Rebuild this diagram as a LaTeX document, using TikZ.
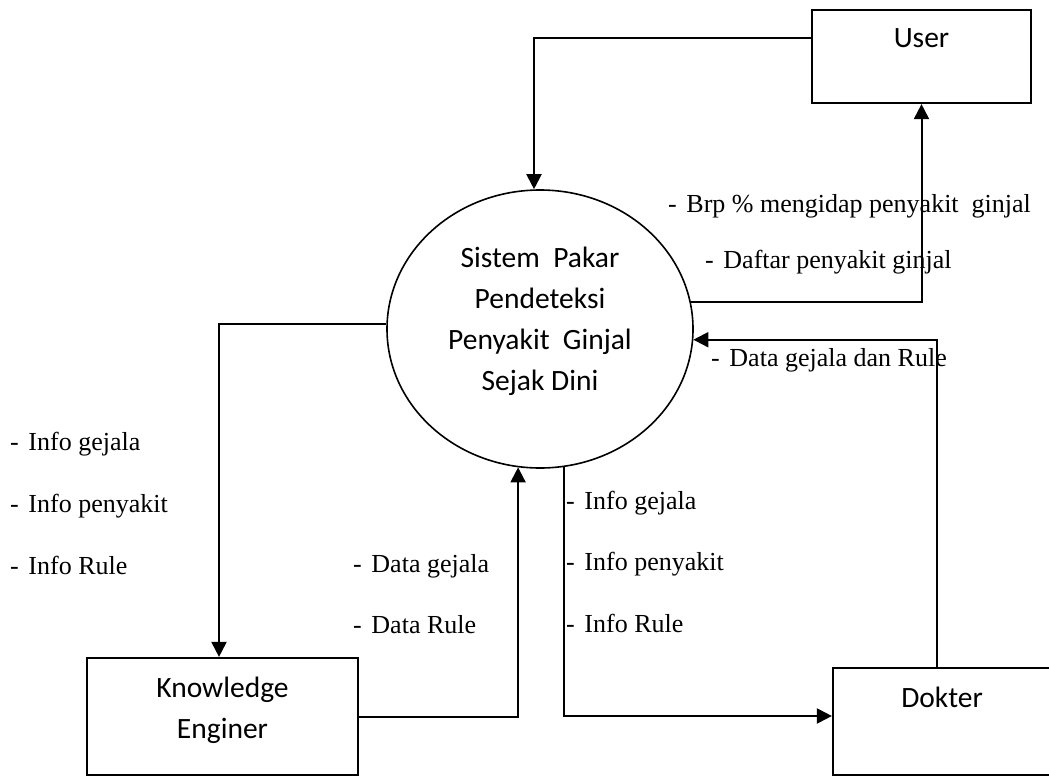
\documentclass[tikz,border=0pt]{standalone}
\usepackage{fontspec}
\setmainfont{Liberation Serif}
\newfontfamily\boxfont{Carlito}
\usetikzlibrary{arrows.meta, shapes.geometric}

\begin{document}
\begin{tikzpicture}[x = 1pt, y = -1pt,
	flow/.style = {line width = 2pt, -{Triangle[length = 15pt, width = 15pt]}},
	entity/.style = {draw, line width = 2.2pt, inner sep = 0pt},
	process/.style = {draw, ellipse, line width = 1.6pt, minimum width = 306pt, minimum height = 278pt, inner sep = 0pt},
	boxtext/.style = {font = \boxfont\fontsize{29.5}{41}\selectfont, align = center, inner sep = 0pt},
	note/.style = {font = \fontsize{26}{31}\selectfont, anchor = base west, inner sep = 0pt}]
	\useasboundingbox (0, 0) rectangle (1049, 776);
	\clip (0, 0) rectangle (1049, 776);
	
	\node[process] (proc) at (540, 329) {};
	\node[boxtext] (proctext) at (540, 321) {Sistem\ \ Pakar\\Pendeteksi\\Penyakit\ \ Ginjal\\Sejak Dini};
	
	\node[entity, minimum width = 219pt, minimum height = 93pt] (user) at (921.5, 56.5) {};
	\node[boxtext, anchor = base] (usertext) at (921.5, 48) {User};
	
	\node[entity, minimum width = 218pt, minimum height = 107pt] (dokter) at (942, 721.5) {};
	\node[boxtext, anchor = base] (doktertext) at (942, 707) {Dokter};
	
	\node[entity, minimum width = 271pt, minimum height = 117pt] (ke) at (222.5, 716.5) {};
	\node[boxtext] (ketext) at (222.5, 710) {Knowledge\\Enginer};
	
	\draw[flow] ([yshift = 18.5pt] user.west) -| ([xshift = -6pt] proc.north);
	\draw[flow] (proc.10) -| (user.south);
	\draw[flow] ([xshift = -5pt] dokter.north) |- (proc.-4);
	\draw[flow] (proc.-80) |- ([yshift = 5.5pt] dokter.west);
	\draw[flow] (ke.east) -| (proc.-99);
	\draw[flow] (proc.178) -| ([xshift = -3.5pt] ke.north);
	
	\node[note] (brp) at (668, 212) {-\hspace{0.37em}Brp \% mengidap penyakit\ \ ginjal};
	\node[note] (daftar) at (705, 268) {-\hspace{0.37em}Daftar penyakit ginjal};
	\node[note] (datarule) at (711, 366) {-\hspace{0.37em}Data gejala dan Rule};
	
	\node[note] (keinfoa) at (10, 450) {-\hspace{0.37em}Info gejala};
	\node[note] (keinfob) at (10, 512) {-\hspace{0.37em}Info penyakit};
	\node[note] (keinfoc) at (10, 574) {-\hspace{0.37em}Info Rule};
	
	\node[note] (kedataa) at (353, 572) {-\hspace{0.37em}Data gejala};
	\node[note] (kedatab) at (353, 633) {-\hspace{0.37em}Data Rule};
	
	\node[note] (drinfoa) at (566, 509) {-\hspace{0.37em}Info gejala};
	\node[note] (drinfob) at (566, 570) {-\hspace{0.37em}Info penyakit};
	\node[note] (drinfoc) at (566, 632) {-\hspace{0.37em}Info Rule};
\end{tikzpicture}
\end{document}
